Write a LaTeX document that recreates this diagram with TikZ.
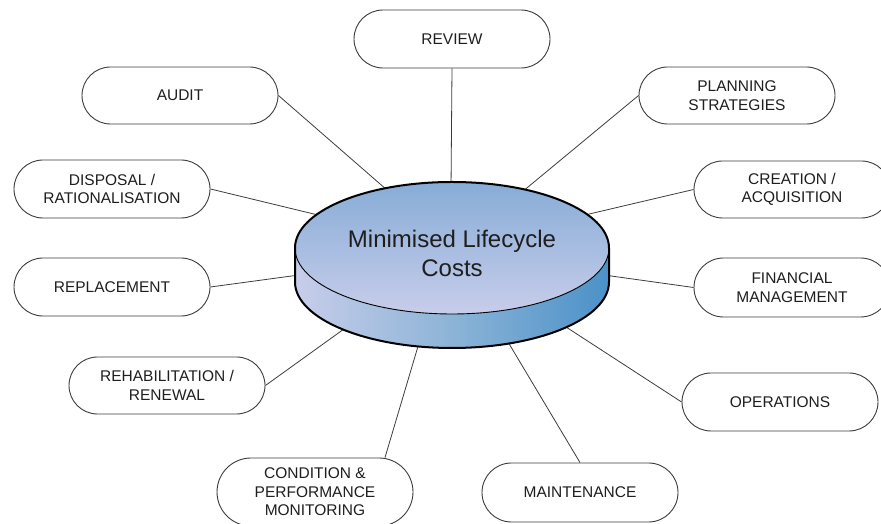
\documentclass[tikz,border=0pt]{standalone}
\usepackage{fontspec}
\setmainfont{Liberation Sans}
\usetikzlibrary{shapes.misc}
\definecolor{txt}{RGB}{30,30,30}
\definecolor{edge}{RGB}{60,60,60}
\definecolor{topA}{RGB}{135,172,215}
\definecolor{topB}{RGB}{200,205,234}
\definecolor{sideA}{RGB}{200,205,234}
\definecolor{sideM}{RGB}{140,180,215}
\definecolor{sideB}{RGB}{75,145,200}
\begin{document}
\begin{tikzpicture}[x=1pt,y=1pt,
  pill/.style={rounded rectangle, draw=edge, line width=0.9pt, fill=white,
    minimum width=200pt, minimum height=57pt, align=center, inner sep=2pt,
    text=txt, font=\fontsize{15.5}{18.5}\selectfont},
  link/.style={draw=edge, line width=0.8pt}]
\useasboundingbox (0,0) rectangle (881,524);
% nodes
\node[pill, minimum height=58pt] (review) at (452,485) {REVIEW};
\node[pill] (audit) at (180,428.5) {AUDIT};
\node[pill, minimum height=58pt] (disposal) at (112,335) {DISPOSAL /\\RATIONALISATION};
\node[pill] (planning) at (737,428.5) {PLANNING\\STRATEGIES};
\node[pill] (creation) at (792,334.5) {CREATION /\\ACQUISITION};
\node[pill, minimum height=58pt] (replacement) at (112,237) {REPLACEMENT};
\node[pill, minimum height=59pt] (financial) at (792,236.5) {FINANCIAL\\MANAGEMENT};
\node[pill] (rehab) at (167,138.5) {REHABILITATION /\\RENEWAL};
\node[pill, minimum height=58pt] (operations) at (780,122) {OPERATIONS};
\node[pill, minimum height=68pt] (cond) at (315,32) {CONDITION \&\\PERFORMANCE\\MONITORING};
\node[pill, minimum height=59pt] (maintenance) at (580,31.5) {MAINTENANCE};
% rim coordinates
\coordinate (rReview) at (451,335);
\coordinate (rAudit) at (387,334);
\coordinate (rDisposal) at (318,309);
\coordinate (rPlanning) at (522,332);
\coordinate (rCreation) at (585,309);
\coordinate (rReplacement) at (299,249);
\coordinate (rFinancial) at (604,249);
\coordinate (rRehab) at (344,195);
\coordinate (rCond) at (419,181);
\coordinate (rMaint) at (508,182);
\coordinate (rOper) at (566,197);
% connectors
\draw[link] (review.south) -- (rReview);
\draw[link] (audit.east) -- (rAudit);
\draw[link] (disposal.east) -- (rDisposal);
\draw[link] (planning.west) -- (rPlanning);
\draw[link] (creation.west) -- (rCreation);
\draw[link] (replacement.east) -- (rReplacement);
\draw[link] (financial.west) -- (rFinancial);
\draw[link] (rehab.east) -- (rRehab);
\draw[link] ([xshift=70pt]cond.north) -- (rCond);
\draw[link] (maintenance.north) -- (rMaint);
\draw[link] (operations.west) -- (rOper);
% disc
\path[left color=sideA, right color=sideB, middle color=sideM]
  (295,276) -- (295,242) arc[start angle=180, end angle=360, x radius=157, y radius=66]
  -- (609,276) arc[start angle=360, end angle=180, x radius=157, y radius=66] -- cycle;
\path[top color=topA, bottom color=topB] (452,276) ellipse[x radius=157, y radius=66];
\draw[black, line width=0.9pt] (609,276) arc[start angle=360, end angle=180, x radius=157, y radius=66];
\draw[black, line width=2pt, line join=round]
  (295,276) arc[start angle=180, end angle=0, x radius=157, y radius=66]
  -- (609,242) arc[start angle=360, end angle=180, x radius=157, y radius=66] -- cycle;
\node[align=center, text=txt, font=\fontsize{24}{29}\selectfont] (disc) at (452,271) {Minimised Lifecycle\\Costs};
\end{tikzpicture}
\end{document}
